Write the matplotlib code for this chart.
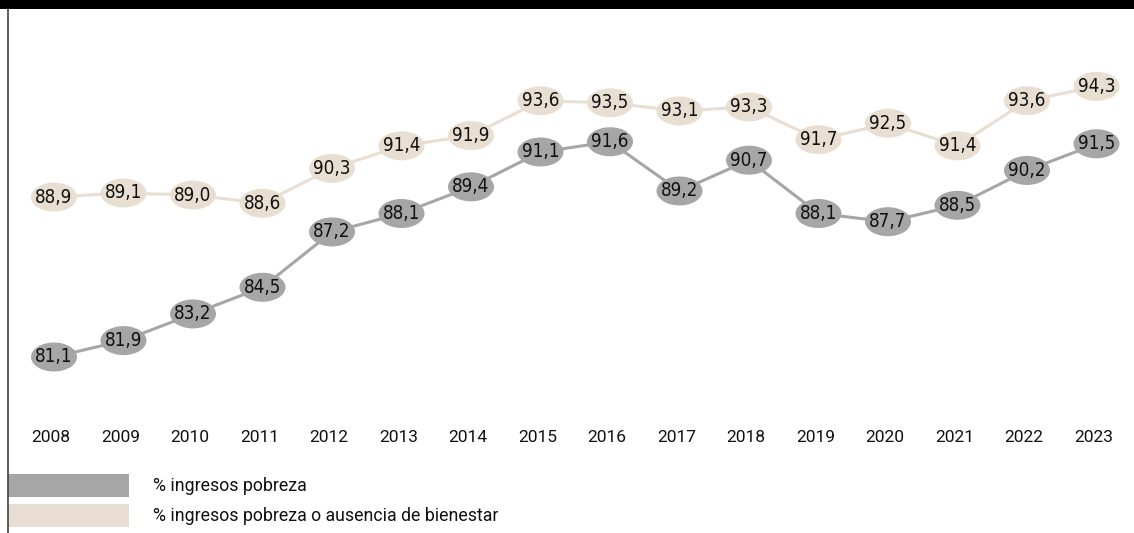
import matplotlib.pyplot as plt
import matplotlib.patches as patches

years = list(range(2008, 2024))
pobreza = [81.1, 81.9, 83.2, 84.5, 87.2, 88.1, 89.4, 91.1, 91.6, 89.2, 90.7, 88.1, 87.7, 88.5, 90.2, 91.5]
bienestar = [88.9, 89.1, 89.0, 88.6, 90.3, 91.4, 91.9, 93.6, 93.5, 93.1, 93.3, 91.7, 92.5, 91.4, 93.6, 94.3]
legend_labels = ['% ingresos pobreza', '% ingresos pobreza o ausencia de bienestar']

gray = '#a6a6a6'
beige = '#e8dfd2'
W, H = 1134, 533

fig = plt.figure(figsize=(W / 100, H / 100), dpi=100)
ax = fig.add_axes([0, 0, 1, 1])
ax.axis('off')

# pixel mapping: year 2008 at x=54, 69.5 px per year; 81.1 at y=357, 20.5 px per unit
px_year, x0 = 69.5, 54
px_unit, y0 = 20.5, 357
ax.set_xlim(2008 - x0 / px_year, 2008 + (W - x0) / px_year)
ax.set_ylim(81.1 - (H - y0) / px_unit, 81.1 + y0 / px_unit)

ew, eh = 46 / px_year, 29 / px_unit

for vals, col in [(bienestar, beige), (pobreza, gray)]:
    ax.plot(years, vals, color=col, lw=2.2, zorder=1)
    for yr, v in zip(years, vals):
        ax.add_patch(patches.Ellipse((yr, v), ew, eh, facecolor=col, edgecolor='none', zorder=2))
        ax.text(yr, v, f'{v:.1f}'.replace('.', ','), ha='center', va='center',
                fontsize=13.5, family='DejaVu Sans', fontstretch='condensed',
                color='#111111', zorder=3)

# year labels
year_y = 81.1 - (437 - y0) / px_unit
for yr in years:
    ax.text(yr - 3 / px_year, year_y, str(yr), ha='center', va='center',
            fontsize=12.5, family=['Roboto', 'DejaVu Sans'], color='#111111')

# top black bar and left rule
fig.patches.append(patches.Rectangle((0, 1 - 9 / H), 1, 9 / H, transform=fig.transFigure,
                                     facecolor='black', edgecolor='none'))
fig.add_artist(plt.Line2D([8 / W, 8 / W], [0, 1 - 9 / H], transform=fig.transFigure,
                          color='#444444', lw=1.2))

# legend
for i, (lab, col) in enumerate(zip(legend_labels, [gray, beige])):
    top = 474 + i * 30
    fig.patches.append(patches.Rectangle((8 / W, 1 - (top + 23) / H), 121 / W, 23 / H,
                                         transform=fig.transFigure, facecolor=col, edgecolor='none'))
    fig.text(153 / W, 1 - (top + 12) / H, lab, ha='left', va='center', fontsize=12.8,
             family=['Roboto', 'DejaVu Sans'], color='#111111')

fig.savefig('out.png', dpi=100)
